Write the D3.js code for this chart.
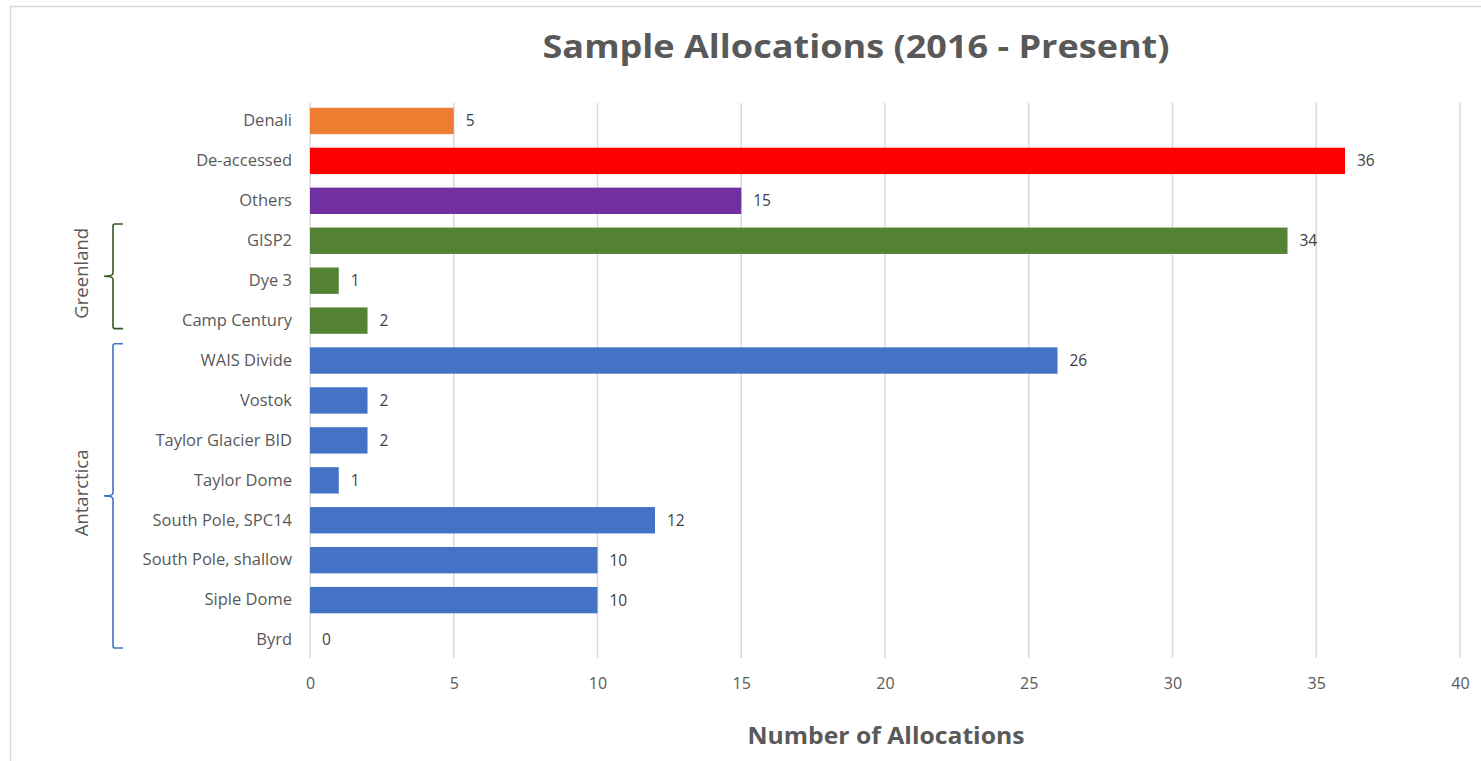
<!DOCTYPE html>
<html>
<head>
<meta charset="utf-8">
<script src="https://cdn.jsdelivr.net/npm/d3@7"></script>
<style>
  html, body { margin: 0; padding: 0; background: #fff; }
  svg { display: block; font-family: "Open Sans", Lato, sans-serif; }
</style>
</head>
<body>
<svg id="chart" width="1481" height="761"></svg>
<script>
// Sample allocation counts by ice core, 2016 to present
const categories = [
  "Denali", "De-accessed", "Others", "GISP2", "Dye 3", "Camp Century",
  "WAIS Divide", "Vostok", "Taylor Glacier BID", "Taylor Dome",
  "South Pole, SPC14", "South Pole, shallow", "Siple Dome", "Byrd"
];
const allocations = [5, 36, 15, 34, 1, 2, 26, 2, 2, 1, 12, 10, 10, 0];
const groupOf = [
  "Denali", "De-accessed", "Others", "Greenland", "Greenland", "Greenland",
  "Antarctica", "Antarctica", "Antarctica", "Antarctica",
  "Antarctica", "Antarctica", "Antarctica", "Antarctica"
];
const xTicks = [0, 5, 10, 15, 20, 25, 30, 35, 40];
const regions = [
  { name: "Greenland", first: "GISP2", last: "Camp Century" },
  { name: "Antarctica", first: "WAIS Divide", last: "Byrd" }
];

const colors = {
  "Denali": "#ED7D31",
  "De-accessed": "#FF0000",
  "Others": "#7030A0",
  "Greenland": "#548235",
  "Antarctica": "#4472C4"
};
const braceColors = { "Greenland": "#375623", "Antarctica": "#4472C4" };

const svg = d3.select("#chart");
const W = 1481, H = 761;

// chart frame (right and bottom edges run past the canvas)
svg.append("rect")
  .attr("x", 10.5).attr("y", 6.5)
  .attr("width", W + 20).attr("height", H + 20)
  .attr("fill", "#fff").attr("stroke", "#d9d9d9").attr("stroke-width", 1.5);

const plot = { left: 310, right: 1460, top: 101, bottom: 660 };

const x = d3.scaleLinear().domain([0, 40]).range([plot.left, plot.right]);
const y = d3.scaleBand().domain(categories).range([plot.top, plot.bottom]).paddingInner(0.34).paddingOuter(0.17);
const mid = c => y(c) + y.bandwidth() / 2;

// vertical gridlines
svg.append("g")
  .selectAll("line")
  .data(xTicks)
  .join("line")
  .attr("x1", d => x(d)).attr("x2", d => x(d))
  .attr("y1", plot.top + 2).attr("y2", plot.bottom - 2)
  .attr("stroke", "#d9d9d9").attr("stroke-width", 1.5);

// x axis tick labels
const xAxis = d3.axisBottom(x).tickValues(xTicks).tickSize(0).tickPadding(0);
const gx = svg.append("g")
  .attr("transform", `translate(0, ${plot.bottom + 18})`)
  .call(xAxis);
gx.select(".domain").remove();
gx.selectAll("text")
  .attr("fill", "#595959").attr("font-size", 16).attr("font-family", "'Open Sans', sans-serif");

// y axis category labels
const yAxis = d3.axisLeft(y).tickSize(0).tickPadding(18);
const gy = svg.append("g")
  .attr("transform", `translate(${plot.left}, 0)`)
  .call(yAxis);
gy.select(".domain").remove();
gy.selectAll("text")
  .attr("fill", "#595959").attr("font-size", 16.5).attr("font-family", "'Open Sans', sans-serif");

// bars
const rows = categories.map((c, i) => ({ cat: c, value: allocations[i], group: groupOf[i] }));
svg.append("g")
  .selectAll("rect")
  .data(rows)
  .join("rect")
  .attr("x", x(0))
  .attr("y", d => y(d.cat))
  .attr("width", d => x(d.value) - x(0))
  .attr("height", y.bandwidth())
  .attr("fill", d => colors[d.group]);

// value labels
svg.append("g")
  .selectAll("text")
  .data(rows)
  .join("text")
  .attr("x", d => x(d.value) + 12)
  .attr("y", d => mid(d.cat))
  .attr("dy", "0.35em")
  .attr("fill", "#404040")
  .attr("font-size", 15.5)
  .text(d => d.value);

// region braces with rotated labels
regions.forEach(r => {
  const y0 = mid(r.first) - 0.42 * y.step();
  const y1 = mid(r.last) + 0.2 * y.step();
  const ym = (y0 + y1) / 2;
  const xr = 123, xs = 113, xt = 104;
  const path = `M${xr},${y0} L${xs + 2},${y0} Q${xs},${y0} ${xs},${y0 + 2} L${xs},${ym - 3} Q${xs},${ym} ${xt},${ym} Q${xs},${ym} ${xs},${ym + 3} L${xs},${y1 - 2} Q${xs},${y1} ${xs + 2},${y1} L${xr},${y1}`;
  svg.append("path")
    .attr("d", path)
    .attr("fill", "none")
    .attr("stroke", braceColors[r.name])
    .attr("stroke-width", 1.6);
  svg.append("text")
    .attr("transform", `translate(88, ${ym - 3}) rotate(-90)`)
    .attr("text-anchor", "middle")
    .attr("fill", "#595959")
    .attr("font-size", 18.5)
    .text(r.name);
});

// title
svg.append("text")
  .attr("x", 856).attr("y", 58)
  .attr("text-anchor", "middle")
  .attr("fill", "#595959")
  .attr("font-size", 33)
  .attr("font-weight", "bold")
  .attr("textLength", 627)
  .attr("lengthAdjust", "spacingAndGlyphs")
  .text("Sample Allocations (2016 - Present)");

// x axis title
svg.append("text")
  .attr("x", 886).attr("y", 744)
  .attr("text-anchor", "middle")
  .attr("fill", "#595959")
  .attr("font-size", 23)
  .attr("font-weight", "bold")
  .attr("textLength", 277)
  .attr("lengthAdjust", "spacingAndGlyphs")
  .text("Number of Allocations");
</script>
</body>
</html>
